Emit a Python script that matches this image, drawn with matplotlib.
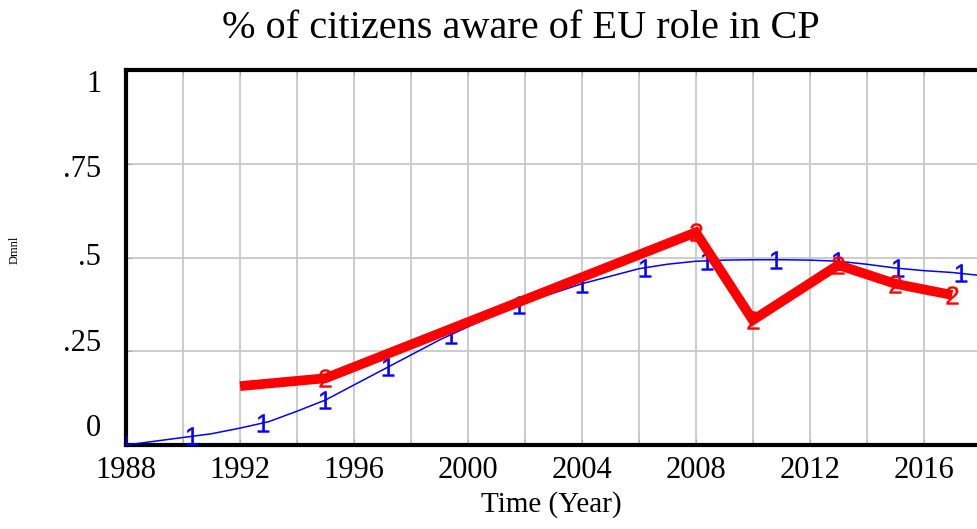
import numpy as np
import matplotlib.pyplot as plt

plt.rcParams['font.family'] = ['Liberation Serif', 'DejaVu Serif']
plt.rcParams['mathtext.fontset'] = 'custom'
plt.rcParams['mathtext.rm'] = 'Liberation Sans'

# simulated series (1) - yearly values
years = np.arange(1988, 2019)
simulated = [0.0, 0.01, 0.02, 0.03, 0.045, 0.062, 0.09, 0.12, 0.16, 0.2,
             0.24, 0.28, 0.315, 0.35, 0.38, 0.405, 0.43, 0.45, 0.47, 0.482,
             0.49, 0.493, 0.494, 0.494, 0.493, 0.49, 0.482, 0.472, 0.465, 0.46,
             0.452]
# marker spots for series 1 (Vensim puts numbers along the line)
sim_marker_years = [1988, 1990.3, 1992.8, 1995.0, 1997.2, 1999.4, 2001.8,
                    2004.0, 2006.2, 2008.4, 2010.8, 2013.0, 2015.1, 2017.3]

# survey data (2)
data_years = [1992, 1995, 2008, 2010, 2013, 2015, 2017]
data_vals = [0.157, 0.178, 0.567, 0.333, 0.48, 0.43, 0.40]

x_ticks = [1988, 1992, 1996, 2000, 2004, 2008, 2012, 2016]
y_ticks = [0, 0.25, 0.5, 0.75, 1]
y_labels = ['0', '.25', '.5', '.75', '1']

fig = plt.figure(figsize=(9.77, 5.29), dpi=100)
ax = fig.add_axes([126/977, 1 - 445/529, 1 - 126/977, (445 - 70)/529])

ax.plot(years, simulated, color='#0000ff', lw=1.1, zorder=3)
ax.plot(sim_marker_years, np.interp(sim_marker_years, years, simulated),
        ls='none', marker=r'$\mathrm{1}$', ms=13, mew=0.3, color='#0000ff', zorder=4)

ax.plot(data_years, data_vals, color='#ff0000', lw=7, solid_joinstyle='miter',
        solid_capstyle='butt', zorder=5)
ax.plot(data_years[1:], data_vals[1:], ls='none', marker=r'$\mathrm{2}$', ms=13,
        mew=0.3, color='#ff0000', zorder=6)

ax.set_xlim(1988, 2017.87)
ax.set_ylim(0, 1)

ax.set_xticks(x_ticks)
ax.set_xticks(np.arange(1988, 2018, 2), minor=True)
ax.set_xticklabels([str(t) for t in x_ticks], fontsize=22)
ax.set_yticks(y_ticks)
ax.tick_params(axis='y', labelleft=False, direction='in', length=4, color='#aaaaaa')
ax.tick_params(axis='x', which='both', direction='in', length=4, color='#aaaaaa',
               pad=8, top=True)

ax.grid(True, which='both', color='#c8c8c8', lw=1.3)
ax.set_axisbelow(True)

# Vensim squeezes the y labels inward a bit
label_pos = [0.045, 0.271, 0.5, 0.734, 0.96]
for p, lab in zip(label_pos, y_labels):
    ax.text(-0.029, p, lab, transform=ax.get_yaxis_transform(), ha='right',
            va='center', fontsize=22)

for side in ['left', 'bottom', 'top']:
    ax.spines[side].set_linewidth(3)
    ax.spines[side].set_color('black')
ax.spines['right'].set_visible(False)

ax.set_xlabel('Time (Year)', fontsize=21, labelpad=4)
fig.text(15/977, 1 - 250/529, 'Dmnl', rotation=90, fontsize=9,
         ha='center', va='center')
fig.text(521/977, 1 - 29/529, '% of citizens aware of EU role in CP',
         fontsize=29, ha='center', va='center')

fig.savefig('out.png', dpi=100)
